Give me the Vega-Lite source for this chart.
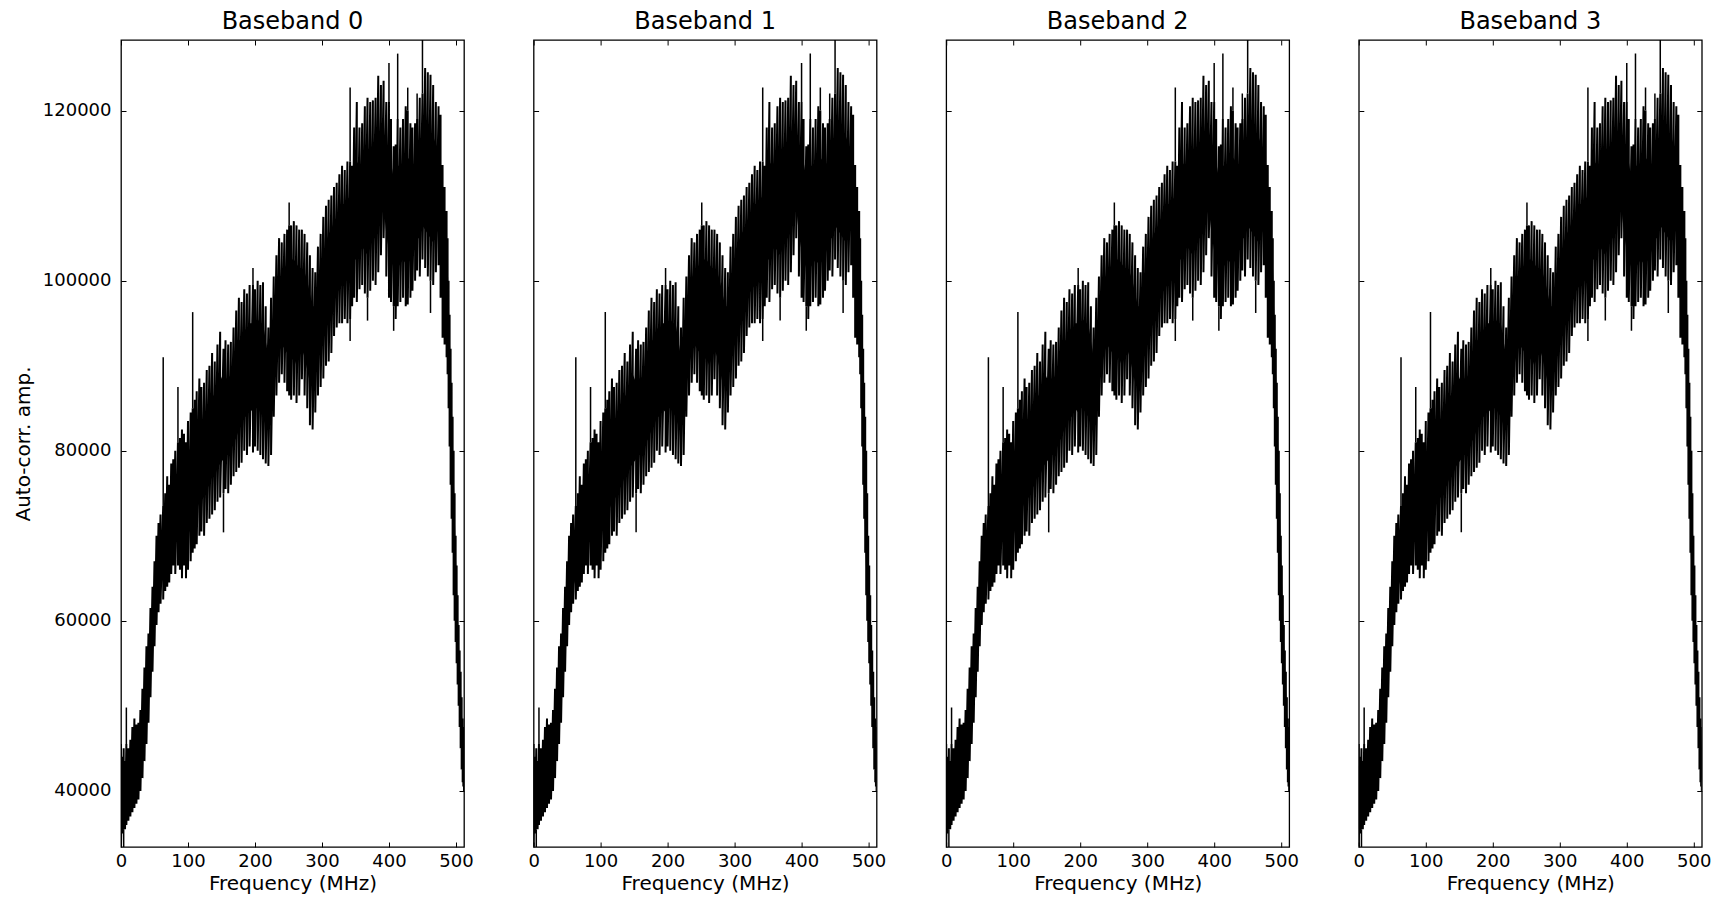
{
  "$schema": "https://vega.github.io/schema/vega-lite/v6.json",
  "padding": {"left": 12, "top": 8, "right": 26, "bottom": 5},
  "bounds": "flush",
  "spacing": 69.6,
  "background": "#ffffff",
  "datasets": {
    "band": [
      {"f":0,"lo":33500,"hi":45500,"clo":35500,"chi":43000},{"f":2,"lo":35000,"hi":44000,"clo":36500,"chi":42000},
      {"f":4,"lo":35500,"hi":45000,"clo":37000,"chi":42500},{"f":6,"lo":35500,"hi":43500,"clo":37000,"chi":41500},
      {"f":8,"lo":36000,"hi":45500,"clo":37500,"chi":43000},{"f":11,"lo":36500,"hi":45000,"clo":38000,"chi":43000},
      {"f":14,"lo":37000,"hi":46000,"clo":38500,"chi":43500},{"f":17,"lo":37500,"hi":47500,"clo":39500,"chi":44500},
      {"f":20,"lo":38000,"hi":48500,"clo":40000,"chi":45500},{"f":23,"lo":38500,"hi":47800,"clo":40500,"chi":45500},
      {"f":26,"lo":39000,"hi":48000,"clo":41000,"chi":46000},{"f":29,"lo":40000,"hi":49500,"clo":42000,"chi":47500},
      {"f":32,"lo":41500,"hi":52000,"clo":44000,"chi":50000},{"f":35,"lo":43500,"hi":54500,"clo":46000,"chi":52500},
      {"f":38,"lo":45500,"hi":57000,"clo":48500,"chi":55000},{"f":41,"lo":48000,"hi":58500,"clo":51000,"chi":57000},
      {"f":44,"lo":51000,"hi":61500,"clo":54000,"chi":59500},{"f":47,"lo":54000,"hi":64000,"clo":57000,"chi":62000},
      {"f":50,"lo":57000,"hi":67000,"clo":59500,"chi":65000},{"f":53,"lo":59500,"hi":70000,"clo":61500,"chi":67500},
      {"f":56,"lo":61000,"hi":71500,"clo":63000,"chi":69000},{"f":59,"lo":62000,"hi":72500,"clo":64000,"chi":70000},
      {"f":63,"lo":62500,"hi":73500,"clo":65000,"chi":71000},{"f":66,"lo":63500,"hi":75000,"clo":66000,"chi":72000},
      {"f":69,"lo":64000,"hi":77000,"clo":67000,"chi":73500},{"f":72,"lo":64500,"hi":76000,"clo":67500,"chi":73500},
      {"f":75,"lo":65500,"hi":78500,"clo":68500,"chi":75000},{"f":78,"lo":66500,"hi":79000,"clo":69500,"chi":75500},
      {"f":81,"lo":65500,"hi":80000,"clo":69000,"chi":76500},{"f":85,"lo":66500,"hi":81000,"clo":70000,"chi":77000},
      {"f":88,"lo":66000,"hi":81500,"clo":69500,"chi":77500},{"f":91,"lo":65000,"hi":82500,"clo":69000,"chi":78000},
      {"f":94,"lo":66500,"hi":82000,"clo":70000,"chi":78500},{"f":97,"lo":65000,"hi":81000,"clo":69500,"chi":77500},
      {"f":100,"lo":66000,"hi":83500,"clo":70000,"chi":79500},{"f":104,"lo":67000,"hi":84500,"clo":71000,"chi":80500},
      {"f":107,"lo":68000,"hi":85000,"clo":72000,"chi":81000},{"f":110,"lo":68500,"hi":86000,"clo":72500,"chi":82000},
      {"f":113,"lo":69000,"hi":87000,"clo":73000,"chi":83000},{"f":117,"lo":70000,"hi":88500,"clo":74000,"chi":84000},
      {"f":120,"lo":70500,"hi":87500,"clo":74500,"chi":83500},{"f":124,"lo":70000,"hi":88000,"clo":74500,"chi":84000},
      {"f":128,"lo":71500,"hi":89500,"clo":75500,"chi":85000},{"f":132,"lo":72000,"hi":90000,"clo":76000,"chi":86000},
      {"f":136,"lo":72500,"hi":91500,"clo":77000,"chi":86500},{"f":140,"lo":73000,"hi":90500,"clo":77000,"chi":86500},
      {"f":144,"lo":74000,"hi":92500,"clo":78000,"chi":88000},{"f":148,"lo":74500,"hi":94000,"clo":78500,"chi":89000},
      {"f":153,"lo":75000,"hi":92000,"clo":79000,"chi":88000},{"f":156,"lo":75500,"hi":93000,"clo":79500,"chi":88500},
      {"f":160,"lo":75000,"hi":92500,"clo":79500,"chi":88500},{"f":164,"lo":76000,"hi":92800,"clo":80000,"chi":89000},
      {"f":168,"lo":77000,"hi":94500,"clo":81000,"chi":90000},{"f":172,"lo":77500,"hi":96500,"clo":81500,"chi":91500},
      {"f":176,"lo":78000,"hi":98000,"clo":82500,"chi":93000},{"f":180,"lo":78600,"hi":97500,"clo":83000,"chi":93000},
      {"f":184,"lo":80000,"hi":99000,"clo":84000,"chi":94500},{"f":188,"lo":79500,"hi":98500,"clo":84000,"chi":94000},
      {"f":192,"lo":80500,"hi":99500,"clo":85000,"chi":95000},{"f":197,"lo":79800,"hi":99500,"clo":84500,"chi":95000},
      {"f":200,"lo":80500,"hi":99000,"clo":85000,"chi":94500},{"f":204,"lo":80000,"hi":100000,"clo":85000,"chi":95500},
      {"f":208,"lo":79500,"hi":99500,"clo":84500,"chi":95000},{"f":212,"lo":79000,"hi":99800,"clo":84000,"chi":95000},
      {"f":216,"lo":78500,"hi":97000,"clo":83000,"chi":93000},{"f":220,"lo":78200,"hi":94500,"clo":82500,"chi":91000},
      {"f":224,"lo":79500,"hi":98000,"clo":84000,"chi":93500},{"f":228,"lo":84000,"hi":100500,"clo":87500,"chi":96500},
      {"f":232,"lo":86500,"hi":103000,"clo":90000,"chi":99000},{"f":236,"lo":88000,"hi":105000,"clo":91500,"chi":100500},
      {"f":240,"lo":89000,"hi":104500,"clo":92500,"chi":100500},{"f":244,"lo":88000,"hi":105500,"clo":92000,"chi":101500},
      {"f":248,"lo":87000,"hi":106000,"clo":91500,"chi":102000},{"f":251,"lo":86500,"hi":106500,"clo":91000,"chi":102500},
      {"f":254,"lo":86000,"hi":106500,"clo":90500,"chi":102500},{"f":258,"lo":86500,"hi":107000,"clo":91000,"chi":102500},
      {"f":262,"lo":85600,"hi":106500,"clo":90000,"chi":102000},{"f":266,"lo":86500,"hi":106000,"clo":91000,"chi":101500},
      {"f":270,"lo":88400,"hi":106000,"clo":92000,"chi":101500},{"f":274,"lo":86500,"hi":105500,"clo":91000,"chi":101000},
      {"f":278,"lo":85000,"hi":104500,"clo":89500,"chi":100000},{"f":282,"lo":83000,"hi":103000,"clo":88000,"chi":98500},
      {"f":286,"lo":82500,"hi":101500,"clo":87500,"chi":97000},{"f":290,"lo":84500,"hi":101000,"clo":89000,"chi":97000},
      {"f":294,"lo":86500,"hi":104000,"clo":91000,"chi":100000},{"f":298,"lo":87500,"hi":105500,"clo":92000,"chi":101500},
      {"f":302,"lo":88500,"hi":107500,"clo":93000,"chi":103000},{"f":306,"lo":90000,"hi":108800,"clo":94500,"chi":104500},
      {"f":310,"lo":90500,"hi":109500,"clo":95000,"chi":105500},{"f":314,"lo":91500,"hi":110000,"clo":96000,"chi":106000},
      {"f":318,"lo":93500,"hi":111000,"clo":97500,"chi":107000},{"f":322,"lo":94500,"hi":111500,"clo":98500,"chi":107500},
      {"f":326,"lo":95000,"hi":112500,"clo":99000,"chi":108500},{"f":330,"lo":95000,"hi":113500,"clo":99500,"chi":109000},
      {"f":334,"lo":95500,"hi":113000,"clo":100000,"chi":109000},{"f":338,"lo":95000,"hi":114000,"clo":100000,"chi":109500},
      {"f":342,"lo":95500,"hi":114000,"clo":100500,"chi":110000},{"f":345,"lo":97000,"hi":113500,"clo":101500,"chi":110000},
      {"f":348,"lo":98000,"hi":118000,"clo":102500,"chi":112500},{"f":352,"lo":97500,"hi":121000,"clo":102500,"chi":114000},
      {"f":356,"lo":99000,"hi":118000,"clo":103500,"chi":113500},{"f":360,"lo":99500,"hi":118500,"clo":104000,"chi":114000},
      {"f":364,"lo":98500,"hi":120500,"clo":103500,"chi":115000},{"f":368,"lo":98000,"hi":121500,"clo":103000,"chi":115500},
      {"f":372,"lo":98800,"hi":121000,"clo":104000,"chi":115500},{"f":376,"lo":100000,"hi":121200,"clo":105000,"chi":116000},
      {"f":380,"lo":99500,"hi":121500,"clo":105000,"chi":116000},{"f":384,"lo":101000,"hi":124100,"clo":106000,"chi":117500},
      {"f":388,"lo":103000,"hi":123000,"clo":107500,"chi":117500},{"f":392,"lo":105000,"hi":123500,"clo":108500,"chi":117500},
      {"f":396,"lo":100500,"hi":121000,"clo":105500,"chi":116000},{"f":400,"lo":98000,"hi":121000,"clo":103500,"chi":115500},
      {"f":403,"lo":97500,"hi":119000,"clo":102500,"chi":114000},{"f":407,"lo":97000,"hi":115800,"clo":101500,"chi":112000},
      {"f":410,"lo":95500,"hi":116000,"clo":100500,"chi":112000},{"f":413,"lo":97000,"hi":119000,"clo":101500,"chi":113500},
      {"f":417,"lo":97500,"hi":118000,"clo":102000,"chi":113500},{"f":421,"lo":98000,"hi":119000,"clo":102500,"chi":114000},
      {"f":425,"lo":97000,"hi":120500,"clo":102000,"chi":114500},{"f":428,"lo":97200,"hi":120000,"clo":102000,"chi":114500},
      {"f":432,"lo":98000,"hi":118500,"clo":102500,"chi":114000},{"f":435,"lo":98800,"hi":118000,"clo":103000,"chi":113500},
      {"f":439,"lo":100000,"hi":118500,"clo":104000,"chi":114000},{"f":442,"lo":101200,"hi":119000,"clo":105000,"chi":114500},
      {"f":446,"lo":100500,"hi":121500,"clo":105000,"chi":115500},{"f":450,"lo":102500,"hi":122000,"clo":106500,"chi":116500},
      {"f":454,"lo":101500,"hi":125000,"clo":106000,"chi":118000},{"f":458,"lo":100500,"hi":124500,"clo":105500,"chi":118000},
      {"f":462,"lo":100000,"hi":124200,"clo":105000,"chi":117500},{"f":466,"lo":99500,"hi":123000,"clo":104500,"chi":117000},
      {"f":470,"lo":101000,"hi":121000,"clo":105500,"chi":116000},{"f":474,"lo":101800,"hi":120500,"clo":106000,"chi":115500},
      {"f":477,"lo":98000,"hi":119500,"clo":103000,"chi":114500},{"f":480,"lo":93300,"hi":113600,"clo":98000,"chi":110000},
      {"f":483,"lo":92500,"hi":111000,"clo":97000,"chi":107500},{"f":486,"lo":91000,"hi":108200,"clo":95000,"chi":105000},
      {"f":487.5,"lo":89000,"hi":105000,"clo":92000,"chi":102500},{"f":489,"lo":85000,"hi":100000,"clo":88000,"chi":98000},
      {"f":490.5,"lo":80500,"hi":96000,"clo":83000,"chi":94000},{"f":492,"lo":76000,"hi":92000,"clo":78500,"chi":90000},
      {"f":493.5,"lo":72000,"hi":88000,"clo":74000,"chi":86000},{"f":495,"lo":68000,"hi":84000,"clo":70000,"chi":82000},
      {"f":496.5,"lo":63000,"hi":80000,"clo":65000,"chi":77500},{"f":498,"lo":60000,"hi":75000,"clo":62000,"chi":73000},
      {"f":499.5,"lo":57500,"hi":70000,"clo":59000,"chi":68500},{"f":501,"lo":55000,"hi":66500,"clo":56500,"chi":65000},
      {"f":502.5,"lo":52500,"hi":63000,"clo":54000,"chi":61500},{"f":504,"lo":50000,"hi":59500,"clo":51500,"chi":58000},
      {"f":505.5,"lo":47500,"hi":56500,"clo":49000,"chi":55000},{"f":507,"lo":45000,"hi":54000,"clo":46500,"chi":52500},
      {"f":508.5,"lo":42500,"hi":51000,"clo":44000,"chi":49500},{"f":510,"lo":41000,"hi":48500,"clo":42000,"chi":47500},
      {"f":511,"lo":40500,"hi":47500,"clo":41500,"chi":46500},{"f":512,"lo":40000,"hi":46000,"clo":41000,"chi":45000}
    ],
    "spikes": [
      {"f":4,"base":35500,"top":33400},{"f":8,"base":45500,"top":49800},{"f":63,"base":73500,"top":91000},
      {"f":85,"base":81000,"top":87500},{"f":107,"base":85000,"top":96300},{"f":153,"base":75000,"top":70400},
      {"f":197,"base":99500,"top":101500},{"f":251,"base":106500,"top":109200},{"f":342,"base":114000,"top":122700},
      {"f":342,"base":95500,"top":92900},{"f":368,"base":98000,"top":95300},{"f":400,"base":121000,"top":125600},
      {"f":407,"base":97000,"top":94100},{"f":413,"base":119000,"top":126700},{"f":428,"base":120000,"top":122700},
      {"f":442,"base":119000,"top":122000},{"f":450,"base":122000,"top":128300},{"f":462,"base":100000,"top":96200}
    ]
  },
  "hconcat": [
    {
      "title": "Baseband 0",
      "width": 343, "height": 807,
      "layer": [
        {
          "data": {"name": "band"},
          "mark": {"type": "area", "color": "#000", "clip": true},
          "encoding": {
            "x": {"field": "f", "type": "quantitative", "scale": {"domain": [0, 512], "nice": false, "zero": false},
                  "axis": {"orient": "bottom", "values": [0,100,200,300,400,500], "title": "Frequency (MHz)", "tickSize": -5, "labelPadding": 10, "labelFlush": false, "titlePadding": 3}},
            "y": {"field": "clo", "type": "quantitative", "scale": {"domain": [33400, 128300], "nice": false, "zero": false},
                  "axis": {"orient": "left", "values": [40000,60000,80000,100000,120000], "format": "d", "title": "Auto-corr. amp.", "tickSize": -5, "labelPadding": 15, "titlePadding": 9}},
            "y2": {"field": "chi"}
          }
        },
        {
          "data": {"name": "band"},
          "transform": [{"fold": ["hi", "lo"], "as": ["k", "amp"]}],
          "mark": {"type": "line", "color": "#000", "strokeWidth": 2, "clip": true},
          "encoding": {
            "x": {"field": "f", "type": "quantitative", "scale": {"domain": [0, 512], "nice": false, "zero": false}, "axis": null},
            "y": {"field": "amp", "type": "quantitative", "scale": {"domain": [33400, 128300], "nice": false, "zero": false}, "axis": null},
            "order": [{"field": "f", "type": "quantitative"}, {"field": "k", "type": "nominal"}]
          }
        },
        {
          "data": {"name": "spikes"},
          "mark": {"type": "rule", "color": "#000", "strokeWidth": 1.5, "clip": true},
          "encoding": {
            "x": {"field": "f", "type": "quantitative", "scale": {"domain": [0, 512], "nice": false, "zero": false},
                  "axis": {"orient": "top", "values": [0,100,200,300,400,500], "labels": false, "title": null, "tickSize": -5}},
            "y": {"field": "base", "type": "quantitative", "scale": {"domain": [33400, 128300], "nice": false, "zero": false},
                  "axis": {"orient": "right", "values": [40000,60000,80000,100000,120000], "labels": false, "title": null, "tickSize": -5}},
            "y2": {"field": "top"}
          }
        }
      ],
      "resolve": {"axis": {"x": "independent", "y": "independent"}}
    },
    {
      "title": "Baseband 1",
      "width": 343, "height": 807,
      "layer": [
        {
          "data": {"name": "band"},
          "mark": {"type": "area", "color": "#000", "clip": true},
          "encoding": {
            "x": {"field": "f", "type": "quantitative", "scale": {"domain": [0, 512], "nice": false, "zero": false},
                  "axis": {"orient": "bottom", "values": [0,100,200,300,400,500], "title": "Frequency (MHz)", "tickSize": -5, "labelPadding": 10, "labelFlush": false, "titlePadding": 3}},
            "y": {"field": "clo", "type": "quantitative", "scale": {"domain": [33400, 128300], "nice": false, "zero": false},
                  "axis": {"orient": "left", "values": [40000,60000,80000,100000,120000], "labels": false, "title": null, "tickSize": -5}},
            "y2": {"field": "chi"}
          }
        },
        {
          "data": {"name": "band"},
          "transform": [{"fold": ["hi", "lo"], "as": ["k", "amp"]}],
          "mark": {"type": "line", "color": "#000", "strokeWidth": 2, "clip": true},
          "encoding": {
            "x": {"field": "f", "type": "quantitative", "scale": {"domain": [0, 512], "nice": false, "zero": false}, "axis": null},
            "y": {"field": "amp", "type": "quantitative", "scale": {"domain": [33400, 128300], "nice": false, "zero": false}, "axis": null},
            "order": [{"field": "f", "type": "quantitative"}, {"field": "k", "type": "nominal"}]
          }
        },
        {
          "data": {"name": "spikes"},
          "mark": {"type": "rule", "color": "#000", "strokeWidth": 1.5, "clip": true},
          "encoding": {
            "x": {"field": "f", "type": "quantitative", "scale": {"domain": [0, 512], "nice": false, "zero": false},
                  "axis": {"orient": "top", "values": [0,100,200,300,400,500], "labels": false, "title": null, "tickSize": -5}},
            "y": {"field": "base", "type": "quantitative", "scale": {"domain": [33400, 128300], "nice": false, "zero": false},
                  "axis": {"orient": "right", "values": [40000,60000,80000,100000,120000], "labels": false, "title": null, "tickSize": -5}},
            "y2": {"field": "top"}
          }
        }
      ],
      "resolve": {"axis": {"x": "independent", "y": "independent"}}
    },
    {
      "title": "Baseband 2",
      "width": 343, "height": 807,
      "layer": [
        {
          "data": {"name": "band"},
          "mark": {"type": "area", "color": "#000", "clip": true},
          "encoding": {
            "x": {"field": "f", "type": "quantitative", "scale": {"domain": [0, 512], "nice": false, "zero": false},
                  "axis": {"orient": "bottom", "values": [0,100,200,300,400,500], "title": "Frequency (MHz)", "tickSize": -5, "labelPadding": 10, "labelFlush": false, "titlePadding": 3}},
            "y": {"field": "clo", "type": "quantitative", "scale": {"domain": [33400, 128300], "nice": false, "zero": false},
                  "axis": {"orient": "left", "values": [40000,60000,80000,100000,120000], "labels": false, "title": null, "tickSize": -5}},
            "y2": {"field": "chi"}
          }
        },
        {
          "data": {"name": "band"},
          "transform": [{"fold": ["hi", "lo"], "as": ["k", "amp"]}],
          "mark": {"type": "line", "color": "#000", "strokeWidth": 2, "clip": true},
          "encoding": {
            "x": {"field": "f", "type": "quantitative", "scale": {"domain": [0, 512], "nice": false, "zero": false}, "axis": null},
            "y": {"field": "amp", "type": "quantitative", "scale": {"domain": [33400, 128300], "nice": false, "zero": false}, "axis": null},
            "order": [{"field": "f", "type": "quantitative"}, {"field": "k", "type": "nominal"}]
          }
        },
        {
          "data": {"name": "spikes"},
          "mark": {"type": "rule", "color": "#000", "strokeWidth": 1.5, "clip": true},
          "encoding": {
            "x": {"field": "f", "type": "quantitative", "scale": {"domain": [0, 512], "nice": false, "zero": false},
                  "axis": {"orient": "top", "values": [0,100,200,300,400,500], "labels": false, "title": null, "tickSize": -5}},
            "y": {"field": "base", "type": "quantitative", "scale": {"domain": [33400, 128300], "nice": false, "zero": false},
                  "axis": {"orient": "right", "values": [40000,60000,80000,100000,120000], "labels": false, "title": null, "tickSize": -5}},
            "y2": {"field": "top"}
          }
        }
      ],
      "resolve": {"axis": {"x": "independent", "y": "independent"}}
    },
    {
      "title": "Baseband 3",
      "width": 343, "height": 807,
      "layer": [
        {
          "data": {"name": "band"},
          "mark": {"type": "area", "color": "#000", "clip": true},
          "encoding": {
            "x": {"field": "f", "type": "quantitative", "scale": {"domain": [0, 512], "nice": false, "zero": false},
                  "axis": {"orient": "bottom", "values": [0,100,200,300,400,500], "title": "Frequency (MHz)", "tickSize": -5, "labelPadding": 10, "labelFlush": false, "titlePadding": 3}},
            "y": {"field": "clo", "type": "quantitative", "scale": {"domain": [33400, 128300], "nice": false, "zero": false},
                  "axis": {"orient": "left", "values": [40000,60000,80000,100000,120000], "labels": false, "title": null, "tickSize": -5}},
            "y2": {"field": "chi"}
          }
        },
        {
          "data": {"name": "band"},
          "transform": [{"fold": ["hi", "lo"], "as": ["k", "amp"]}],
          "mark": {"type": "line", "color": "#000", "strokeWidth": 2, "clip": true},
          "encoding": {
            "x": {"field": "f", "type": "quantitative", "scale": {"domain": [0, 512], "nice": false, "zero": false}, "axis": null},
            "y": {"field": "amp", "type": "quantitative", "scale": {"domain": [33400, 128300], "nice": false, "zero": false}, "axis": null},
            "order": [{"field": "f", "type": "quantitative"}, {"field": "k", "type": "nominal"}]
          }
        },
        {
          "data": {"name": "spikes"},
          "mark": {"type": "rule", "color": "#000", "strokeWidth": 1.5, "clip": true},
          "encoding": {
            "x": {"field": "f", "type": "quantitative", "scale": {"domain": [0, 512], "nice": false, "zero": false},
                  "axis": {"orient": "top", "values": [0,100,200,300,400,500], "labels": false, "title": null, "tickSize": -5}},
            "y": {"field": "base", "type": "quantitative", "scale": {"domain": [33400, 128300], "nice": false, "zero": false},
                  "axis": {"orient": "right", "values": [40000,60000,80000,100000,120000], "labels": false, "title": null, "tickSize": -5}},
            "y2": {"field": "top"}
          }
        }
      ],
      "resolve": {"axis": {"x": "independent", "y": "independent"}}
    }
  ],
  "config": {
    "font": "DejaVu Sans",
    "view": {"stroke": "#000", "strokeWidth": 1.3},
    "axis": {"domain": false, "grid": false, "tickColor": "#000", "tickWidth": 1, "labelColor": "#000", "titleColor": "#000",
             "labelFontSize": 18, "titleFontSize": 20, "titleFontWeight": "normal", "labelFont": "DejaVu Sans", "titleFont": "DejaVu Sans"},
    "title": {"fontSize": 24, "fontWeight": "normal", "color": "#000", "font": "DejaVu Sans", "offset": 6}
  }
}
